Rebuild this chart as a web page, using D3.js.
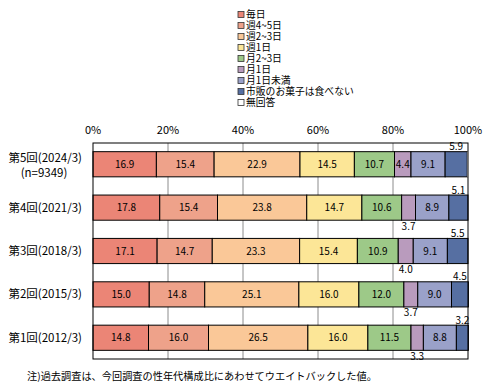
<!doctype html>
<html>
  <head>
    <meta charset="utf-8">
    <title>お菓子の購入頻度</title>
    <script src="https://cdnjs.cloudflare.com/ajax/libs/d3/7.8.5/d3.min.js"></script>
    <style>
      body { margin: 0; background: #fff; }
      text { font-family: "Noto Sans CJK JP", "Noto Sans", sans-serif; fill: #000; }
    </style>
  </head>
  <body>
    <div id="chart"></div>
    <script>
    // data
    let rounds = ["第5回(2024/3)", "第4回(2021/3)", "第3回(2018/3)", "第2回(2015/3)", "第1回(2012/3)"];
    let sampleNotes = ["(n=9349)", "", "", "", ""];
    let categories = ["毎日", "週4~5日", "週2~3日", "週1日", "月2~3日", "月1日", "月1日未満", "市販のお菓子は食べない", "無回答"];
    let mainichi   = [16.9, 17.8, 17.1, 15.0, 14.8];
    let shu45      = [15.4, 15.4, 14.7, 14.8, 16.0];
    let shu23      = [22.9, 23.8, 23.3, 25.1, 26.5];
    let shu1       = [14.5, 14.7, 15.4, 16.0, 16.0];
    let tsuki23    = [10.7, 10.6, 10.9, 12.0, 11.5];
    let tsuki1     = [4.4, 3.7, 4.0, 3.7, 3.3];
    let tsuki1miman = [9.1, 8.9, 9.1, 9.0, 8.8];
    let tabenai    = [5.9, 5.1, 5.5, 4.5, 3.2];
    let mukaito    = [0.2, 0, 0, 0, 0];
    let ticks = [0, 20, 40, 60, 80, 100];
    let footnote = "注)過去調査は、今回調査の性年代構成比にあわせてウエイトバックした値。";

    let series = [mainichi, shu45, shu23, shu1, tsuki23, tsuki1, tsuki1miman, tabenai, mukaito];
    let colors = ["#eb8576", "#eea28a", "#fac898", "#fce697", "#9dc988", "#b99bbd", "#9aa1c9", "#566fa2", "#ffffff"];

    // table for stack
    let table = rounds.map((r, i) => {
      let row = { round: r };
      categories.forEach((c, j) => row[c] = series[j][i]);
      return row;
    });
    let stacked = d3.stack().keys(categories)(table);

    let svg = d3.select("#chart").append("svg")
      .attr("width", 490)
      .attr("height", 388);

    let x = d3.scaleLinear().domain([0, 100]).range([93, 468]);
    let y = d3.scaleBand().domain(rounds).range([143, 359])
      .paddingInner(0.42).paddingOuter(0.2);

    // legend
    let legend = svg.append("g").attr("transform", "translate(238,9)");
    categories.forEach((c, i) => {
      let g = legend.append("g").attr("transform", `translate(0,${i * 11})`);
      g.append("rect").attr("x", 0).attr("y", 2.5).attr("width", 6).attr("height", 6)
        .style("fill", colors[i]).style("stroke", "#333").style("stroke-width", 0.8);
      g.append("text").attr("x", 8).attr("y", 5.5).attr("dy", "0.35em")
        .style("font-size", "9.8px").text(c);
    });

    // gridlines
    svg.append("g").selectAll("line")
      .data(ticks.slice(1, -1))
      .join("line")
      .attr("x1", d => x(d)).attr("x2", d => x(d))
      .attr("y1", 143).attr("y2", 359)
      .style("stroke", "#8c8c8c").style("stroke-width", 1);

    // tick labels
    svg.append("g").selectAll("text")
      .data(ticks)
      .join("text")
      .attr("x", d => x(d)).attr("y", 130).attr("dy", "0.35em")
      .style("text-anchor", "middle").style("font-size", "11px")
      .text(d => d + "%");

    // bars
    let groups = svg.append("g").selectAll("g")
      .data(stacked)
      .join("g")
      .style("fill", (d, i) => colors[i]);

    groups.selectAll("rect")
      .data(d => d)
      .join("rect")
      .attr("x", d => x(d[0]))
      .attr("y", d => y(d.data.round))
      .attr("width", d => x(d[1]) - x(d[0]))
      .attr("height", y.bandwidth())
      .style("stroke", "#000")
      .style("stroke-width", d => (d[1] - d[0]) > 0.5 ? 1 : 0);

    // frame
    svg.append("rect")
      .attr("x", x(0)).attr("y", 143)
      .attr("width", x(100) - x(0)).attr("height", 216)
      .style("fill", "none").style("stroke", "#000").style("stroke-width", 1);

    // value labels
    let labels = svg.append("g");
    stacked.forEach((s, k) => {
      if (k === categories.length - 1) return;
      s.forEach(d => {
        let v = d[1] - d[0];
        let cx = (x(d[0]) + x(d[1])) / 2;
        let top = y(d.data.round);
        let ypos;
        if (k === 7) ypos = top - 5;                          // small dark segment: above
        else if (v < 4.2) ypos = top + y.bandwidth() + 6;    // too narrow: below
        else ypos = top + y.bandwidth() / 2;
        labels.append("text")
          .attr("x", cx).attr("y", ypos).attr("dy", "0.35em")
          .style("text-anchor", "middle").style("font-size", "10px")
          .text(v.toFixed(1));
      });
    });

    // category labels
    rounds.forEach((r, i) => {
      let cy = y(r) + y.bandwidth() / 2;
      if (sampleNotes[i]) {
        svg.append("text").attr("x", 82).attr("y", cy - 6).attr("dy", "0.35em")
          .style("text-anchor", "end").style("font-size", "11.5px").text(r);
        svg.append("text").attr("x", 44).attr("y", cy + 9).attr("dy", "0.35em")
          .style("text-anchor", "middle").style("font-size", "11.5px").text(sampleNotes[i]);
      } else {
        svg.append("text").attr("x", 82).attr("y", cy).attr("dy", "0.35em")
          .style("text-anchor", "end").style("font-size", "11.5px").text(r);
      }
    });

    // footnote
    svg.append("text").attr("x", 27).attr("y", 376).attr("dy", "0.35em")
      .style("font-size", "10.2px").text(footnote);
    </script>
  </body>
</html>
